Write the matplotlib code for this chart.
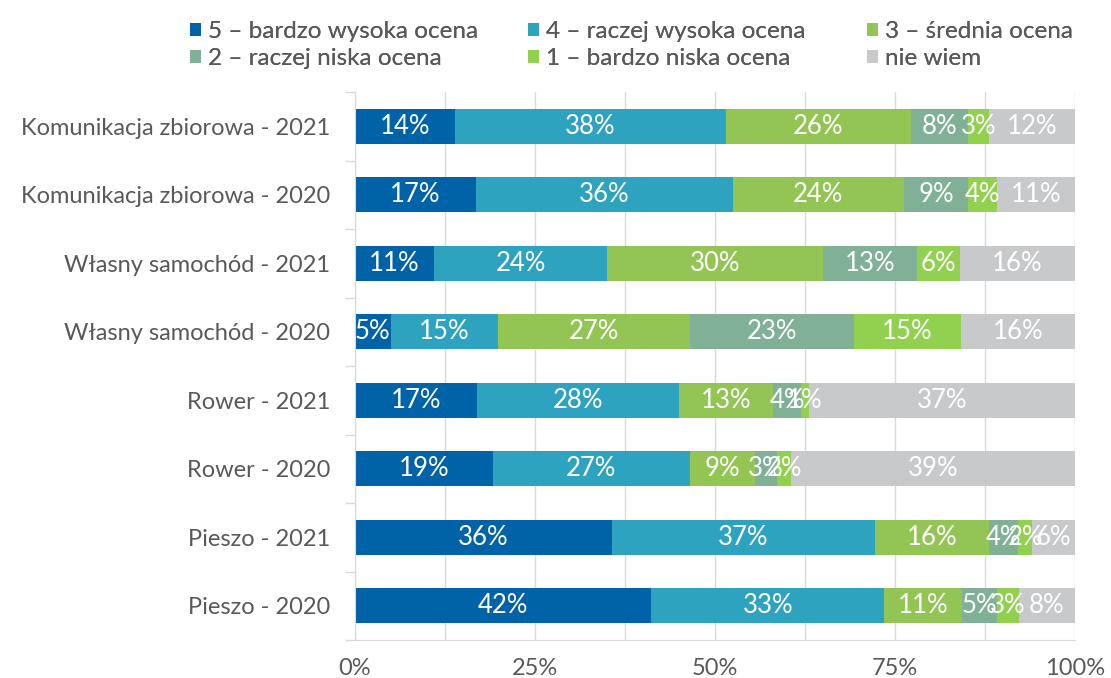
import matplotlib
matplotlib.use('Agg')
import matplotlib.pyplot as plt
import numpy as np
from matplotlib.ticker import MultipleLocator, FuncFormatter

plt.rcParams['font.family'] = ['Lato', 'DejaVu Sans']

categories = ['Komunikacja zbiorowa - 2021', 'Komunikacja zbiorowa - 2020',
              'Własny samochód - 2021', 'Własny samochód - 2020',
              'Rower - 2021', 'Rower - 2020', 'Pieszo - 2021', 'Pieszo - 2020']
series = ['5 – bardzo wysoka ocena', '4 – raczej wysoka ocena', '3 – średnia ocena',
          '2 – raczej niska ocena', '1 – bardzo niska ocena', 'nie wiem']
ocena5 = [14, 17, 11, 5, 17, 19, 36, 42]
ocena4 = [38, 36, 24, 15, 28, 27, 37, 33]
ocena3 = [26, 24, 30, 27, 13, 9, 16, 11]
ocena2 = [8, 9, 13, 23, 4, 3, 4, 5]
ocena1 = [3, 4, 6, 15, 1, 2, 2, 3]
nie_wiem = [12, 11, 16, 16, 37, 39, 6, 8]
colors = ['#0063A7', '#2EA3BF', '#92C553', '#80B197', '#92D050', '#C8C9CB']

vals = np.array([ocena5, ocena4, ocena3, ocena2, ocena1, nie_wiem], dtype=float)
shares = vals / vals.sum(axis=0) * 100

fig = plt.figure(figsize=(11.11, 6.78), dpi=100)
ax = fig.add_axes([355 / 1111, 38 / 678, 720 / 1111, 548 / 678])

y = np.arange(len(categories))
left = np.zeros(len(categories))
handles = []
for i, name in enumerate(series):
    h = ax.barh(y, shares[i], left=left, height=0.51, color=colors[i], label=name, zorder=2)
    handles.append(h)
    for j in range(len(categories)):
        ax.text(left[j] + shares[i][j] / 2, y[j], f'{int(vals[i][j])}%',
                ha='center', va='center', color='white', fontsize=18.5, zorder=3)
    left += shares[i]

ax.set_xlim(0, 100)
ax.set_ylim(len(categories) - 0.5, -0.5)
ax.set_yticks(y)
ax.set_yticklabels(categories)
ax.set_yticks(np.arange(len(categories) + 1) - 0.5, minor=True)
ax.tick_params(axis='y', which='major', length=0, pad=18, labelsize=17, labelcolor='#595959')
ax.tick_params(axis='y', which='minor', length=7, color='#D9D9D9', width=1)

ax.xaxis.set_major_locator(MultipleLocator(25))
ax.xaxis.set_minor_locator(MultipleLocator(12.5))
ax.xaxis.set_major_formatter(FuncFormatter(lambda v, p: f'{int(v)}%'))
ax.tick_params(axis='x', which='both', length=0, labelsize=17, labelcolor='#595959', pad=13)
ax.grid(axis='x', which='both', color='#D9D9D9', linewidth=1, zorder=0)

for s in ['top', 'right']:
    ax.spines[s].set_visible(False)
for s in ['left', 'bottom']:
    ax.spines[s].set_color('#D9D9D9')

# legend: three columns, row-major order like the original
col_x = [190 / 1111, 528 / 1111, 867 / 1111]
for c in range(3):
    idx = [c, c + 3]
    leg = fig.legend([handles[k] for k in idx], [series[k] for k in idx],
                     loc='upper left', bbox_to_anchor=(col_x[c], 1 - 21 / 678),
                     bbox_transform=fig.transFigure, frameon=False,
                     fontsize=17.5, labelcolor='#595959', handlelength=0.45,
                     handleheight=0.45, handletextpad=0.3, borderpad=0,
                     borderaxespad=0, labelspacing=0.25)
    fig.add_artist(leg)

fig.savefig('out.png', dpi=100)
